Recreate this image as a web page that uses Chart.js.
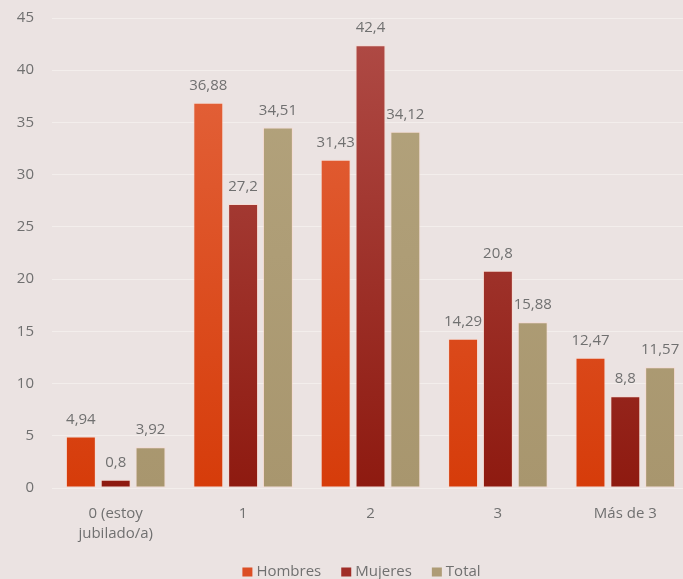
<!DOCTYPE html>
<html>
<head>
<meta charset="utf-8">
<script src="https://cdn.jsdelivr.net/npm/chart.js@4/dist/chart.umd.min.js"></script>
<style>
  html, body { margin: 0; padding: 0; background: #ebe3e2; overflow: hidden; }
  #wrap { width: 690px; height: 579px; }
</style>
</head>
<body>
<div id="wrap"><canvas id="c" width="690" height="579"></canvas></div>
<script>
// Categories: number of something per respondent (x axis)
const categories = [["0 (estoy", "jubilado/a)"], "1", "2", "3", "Más de 3"];

// Percentages per group
const hombres = [4.94, 36.88, 31.43, 14.29, 12.47];
const mujeres = [0.8, 27.2, 42.4, 20.8, 8.8];
const total   = [3.92, 34.51, 34.12, 15.88, 11.57];

const seriesNames = ["Hombres", "Mujeres", "Total"];
const yTicks = [0, 5, 10, 15, 20, 25, 30, 35, 40, 45];

const FONT = "'Open Sans', 'DejaVu Sans', sans-serif";
const TEXT = "#707070";

// Vertical gradients spanning the plot area
const gradStops = {
  Hombres: ["#e4663f", "#d63c0a"],
  Mujeres: ["#b04c47", "#8e1a10"],
  Total:   ["#b4a47e", "#a8966e"]
};
const solid = { Hombres: "#dc4f25", Mujeres: "#a02e28", Total: "#ae9c76" };

function fill(name) {
  return (ctx) => {
    const chart = ctx.chart;
    const area = chart.chartArea;
    if (!area) return solid[name];
    const g = chart.ctx.createLinearGradient(0, area.top, 0, area.bottom);
    g.addColorStop(0, gradStops[name][0]);
    g.addColorStop(1, gradStops[name][1]);
    return g;
  };
}

// Value labels written above each bar
const valueLabels = {
  id: "valueLabels",
  afterDatasetsDraw(chart) {
    const c = chart.ctx;
    c.save();
    c.font = "15px " + FONT;
    c.fillStyle = TEXT;
    c.textAlign = "center";
    c.textBaseline = "middle";
    chart.data.datasets.forEach((ds, i) => {
      chart.getDatasetMeta(i).data.forEach((bar, j) => {
        const txt = String(ds.data[j]).replace(".", ",");
        c.fillText(txt, bar.x, bar.y - 17);
      });
    });
    c.restore();
  }
};

// Compact legend along the bottom edge
const bottomLegend = {
  id: "bottomLegend",
  afterDraw(chart) {
    const c = chart.ctx;
    c.save();
    c.font = "15px " + FONT;
    c.textBaseline = "middle";
    const box = 10, gap = 4, spacing = 20;
    const items = chart.data.datasets.map(ds => ({
      label: ds.label, color: solid[ds.label], w: box + gap + c.measureText(ds.label).width
    }));
    const totalW = items.reduce((s, it) => s + it.w, 0) + spacing * (items.length - 1);
    const area = chart.chartArea;
    let x = (area.left + area.right) / 2 - 9 - totalW / 2;
    const y = chart.height - 7;
    items.forEach(it => {
      c.fillStyle = it.color;
      c.fillRect(x, y - 4.5, box, 9);
      c.fillStyle = TEXT;
      c.textAlign = "left";
      c.fillText(it.label, x + box + gap, y);
      x += it.w + spacing;
    });
    c.restore();
  }
};

const data = {
  labels: categories,
  datasets: [hombres, mujeres, total].map((vals, i) => ({
    label: seriesNames[i],
    data: vals,
    backgroundColor: fill(seriesNames[i]),
    borderColor: "rgba(255, 215, 200, 0.55)",
    borderWidth: 1,
    borderSkipped: false,
    barPercentage: 0.86,
    categoryPercentage: 0.82
  }))
};

new Chart(document.getElementById("c"), {
  type: "bar",
  data,
  options: {
    responsive: false,
    animation: false,
    layout: { autoPadding: false, padding: { left: 16, right: 1, top: 18, bottom: 19 } },
    plugins: {
      legend: { display: false },
      tooltip: { enabled: false }
    },
    scales: {
      x: {
        grid: { display: false, drawTicks: false },
        border: { display: false },
        ticks: {
          color: TEXT,
          font: { family: FONT, size: 15, lineHeight: 1.33 },
          padding: 16,
          maxRotation: 0
        },
        afterFit(scale) { scale.paddingLeft = 0; scale.paddingRight = 0; }
      },
      y: {
        min: 0,
        max: 45,
        afterBuildTicks(scale) { scale.ticks = yTicks.map(v => ({ value: v })); },
        afterFit(scale) { scale.width = 36; scale.paddingTop = 0; scale.paddingBottom = 0; },
        grid: { color: "#f3eeec", lineWidth: 1, drawTicks: false },
        border: { display: false },
        ticks: {
          color: TEXT,
          font: { family: FONT, size: 15 },
          padding: 18
        }
      }
    }
  },
  plugins: [valueLabels, bottomLegend]
});
</script>
</body>
</html>
